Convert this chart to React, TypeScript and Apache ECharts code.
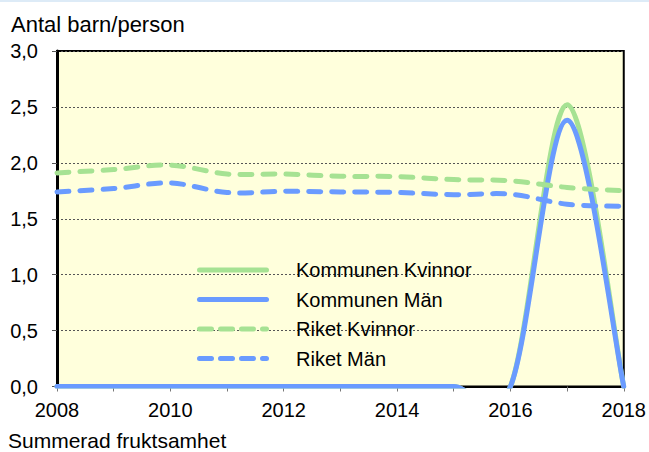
import React, { useEffect, useRef } from "react";
import * as echarts from "echarts";

const years = [2008, 2009, 2010, 2011, 2012, 2013, 2014, 2015, 2016, 2017, 2018];
const kommunenKvinnor = [0, 0, 0, 0, 0, 0, 0, 0, 0, 2.52, 0];
const kommunenMan = [0, 0, 0, 0, 0, 0, 0, 0, 0, 2.38, 0];
const riketKvinnor = [1.91, 1.94, 1.98, 1.9, 1.9, 1.88, 1.877, 1.85, 1.84, 1.78, 1.75];
const riketMan = [1.74, 1.77, 1.82, 1.735, 1.745, 1.74, 1.735, 1.715, 1.72, 1.63, 1.61];
const yTicks = ["0,0", "0,5", "1,0", "1,5", "2,0", "2,5", "3,0"];
const seriesNames = ["Kommunen Kvinnor", "Kommunen Män", "Riket Kvinnor", "Riket Män"];

const GREEN = "#A6E293";
const BLUE = "#6A9BFF";
const FONT = "Liberation Sans, Arial, sans-serif";

const SOLID_ICON = "path://M2.5,0 H69.5 A2.5,2.5 0 0 1 69.5,5 H2.5 A2.5,2.5 0 0 1 2.5,0 Z";
const DASH_ICON =
  "path://M2.5,0 H14.5 A2.5,2.5 0 0 1 14.5,5 H2.5 A2.5,2.5 0 0 1 2.5,0 Z " +
  "M23.5,0 H35.5 A2.5,2.5 0 0 1 35.5,5 H23.5 A2.5,2.5 0 0 1 23.5,0 Z " +
  "M44.5,0 H56.5 A2.5,2.5 0 0 1 56.5,5 H44.5 A2.5,2.5 0 0 1 44.5,0 Z " +
  "M65.5,0 H69.5 A2.5,2.5 0 0 1 69.5,5 H65.5 A2.5,2.5 0 0 1 65.5,0 Z";

export default function App() {
  const ref = useRef<HTMLDivElement>(null);
  useEffect(() => {
    if (!ref.current) return;
    const chart = echarts.init(ref.current, null, { renderer: "svg" });

    const makeRender = (color: string, dashed: boolean) => (params: any, api: any) => {
      if (params.dataIndexInside !== 0) return null;
      const n = params.dataInsideLength;
      const pts: number[][] = [];
      for (let i = 0; i < n; i++) {
        pts.push(api.coord([api.value(0, i), api.value(1, i)]));
      }
      let d = `M${pts[0][0]},${pts[0][1]}`;
      for (let i = 0; i < n - 1; i++) {
        const p0 = pts[Math.max(0, i - 1)];
        const p1 = pts[i];
        const p2 = pts[i + 1];
        const p3 = pts[Math.min(n - 1, i + 2)];
        const c1x = p1[0] + (p2[0] - p0[0]) / 6;
        const c1y = p1[1] + (p2[1] - p0[1]) / 6;
        const c2x = p2[0] - (p3[0] - p1[0]) / 6;
        const c2y = p2[1] - (p3[1] - p1[1]) / 6;
        d += ` C${c1x},${c1y} ${c2x},${c2y} ${p2[0]},${p2[1]}`;
      }
      const cs = params.coordSys;
      return {
        type: "path",
        shape: { pathData: d },
        clipPath: {
          type: "rect",
          shape: { x: cs.x - 3, y: cs.y - 3, width: cs.width + 6, height: cs.height + 5 },
        },
        style: {
          fill: "none",
          stroke: color,
          lineWidth: 5,
          lineCap: "round",
          lineJoin: "round",
          lineDash: dashed ? [12, 11] : null,
        },
      };
    };

    const mk = (name: string, arr: number[], color: string, dashed: boolean) => ({
      name,
      type: "custom",
      data: years.map((y, i) => [y, arr[i]]),
      encode: { x: 0, y: 1 },
      itemStyle: { color },
      renderItem: makeRender(color, dashed),
    });

    chart.setOption({
      animation: false,
      backgroundColor: "#ffffff",
      textStyle: { fontFamily: FONT },
      title: {
        text: "Antal barn/person",
        left: 11,
        top: 13,
        padding: 0,
        textStyle: { fontSize: 22, fontWeight: "normal", color: "#000", fontFamily: FONT },
      },
      graphic: [
        { type: "rect", shape: { x: 0, y: 0, width: 649, height: 2 }, style: { fill: "#DDEBF7" } },
        {
          type: "text",
          left: 8,
          top: 430,
          style: { text: "Summerad fruktsamhet", fontSize: 21, fill: "#000", fontFamily: FONT },
        },
      ],
      legend: {
        orient: "vertical",
        left: 197,
        top: 260,
        itemWidth: 72,
        itemHeight: 5,
        itemGap: 9.5,
        padding: 0,
        selectedMode: false,
        textStyle: { fontSize: 20, color: "#000", fontFamily: FONT, padding: [0, 0, 0, 22] },
        data: [
          { name: seriesNames[0], icon: SOLID_ICON },
          { name: seriesNames[1], icon: SOLID_ICON },
          { name: seriesNames[2], icon: DASH_ICON },
          { name: seriesNames[3], icon: DASH_ICON },
        ],
      },
      grid: {
        left: 57,
        right: 24,
        top: 51,
        bottom: 65.5,
        show: true,
        backgroundColor: "#FFFFDC",
        borderColor: "#000",
        borderWidth: 2,
        containLabel: false,
      },
      xAxis: {
        type: "value",
        min: 2008,
        max: 2018,
        interval: 1,
        axisLine: { show: true, lineStyle: { color: "#000", width: 2 } },
        axisTick: { show: true, length: 5, lineStyle: { color: "#777", width: 1 } },
        axisLabel: {
          margin: 13,
          fontSize: 20,
          color: "#000",
          fontFamily: FONT,
          formatter: (v: number) => (v % 2 === 0 ? String(v) : ""),
        },
        splitLine: { show: false },
      },
      yAxis: {
        type: "value",
        min: 0,
        max: 3,
        interval: 0.5,
        axisLine: { show: true, lineStyle: { color: "#000", width: 3 } },
        axisTick: { show: true, length: 5, lineStyle: { color: "#555", width: 1 } },
        axisLabel: {
          margin: 19,
          fontSize: 20,
          color: "#000",
          fontFamily: FONT,
          formatter: (v: number) => yTicks[Math.round(v * 2)] ?? "",
        },
        splitLine: { show: true, lineStyle: { color: "#555", width: 1, type: [2, 2] } },
      },
      series: [
        mk(seriesNames[0], kommunenKvinnor, GREEN, false),
        mk(seriesNames[1], kommunenMan, BLUE, false),
        mk(seriesNames[2], riketKvinnor, GREEN, true),
        mk(seriesNames[3], riketMan, BLUE, true),
      ],
    });
    return () => chart.dispose();
  }, []);
  return (
    <div
      ref={ref}
      style={{ position: "fixed", left: 0, top: 0, width: 649, height: 452 }}
    />
  );
}
